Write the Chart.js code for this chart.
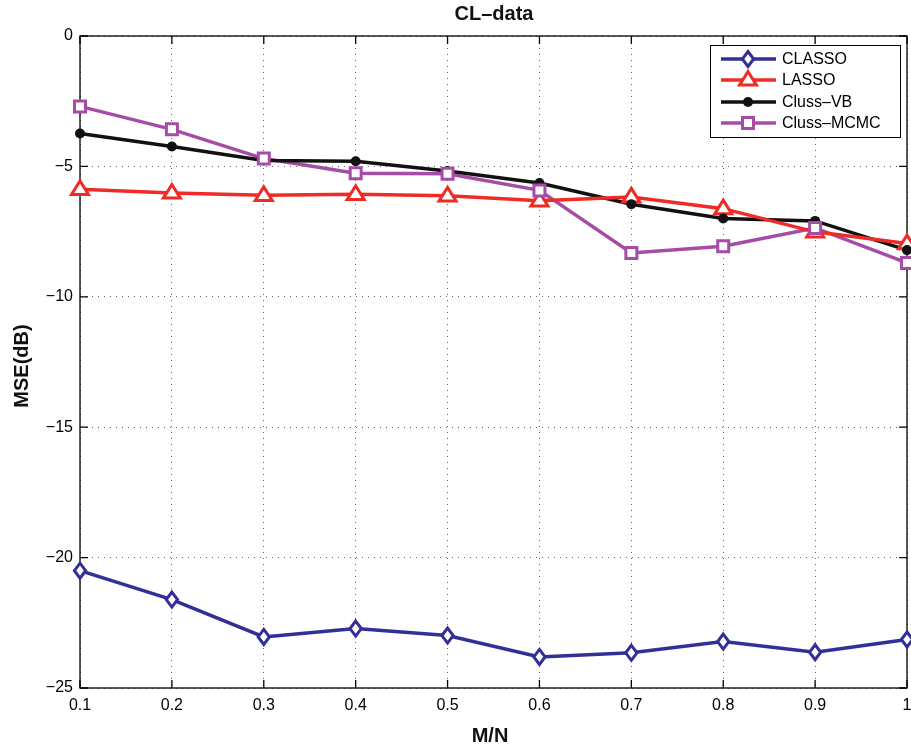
<!DOCTYPE html>
<html><head><meta charset="utf-8">
<script src="https://cdn.jsdelivr.net/npm/chart.js@4.4.1/dist/chart.umd.min.js"></script>
<style>html,body{margin:0;padding:0;background:#fff}canvas{display:block}</style>
</head><body>
<canvas id="c" width="911" height="749"></canvas>
<script>
const categories = ['0.1','0.2','0.3','0.4','0.5','0.6','0.7','0.8','0.9','1'];
const classo = [-20.50,-21.61,-23.04,-22.72,-22.99,-23.81,-23.65,-23.22,-23.63,-23.14];
const lasso  = [-5.88,-6.02,-6.11,-6.07,-6.13,-6.32,-6.17,-6.62,-7.51,-7.96];
const clussVB = [-3.74,-4.24,-4.77,-4.80,-5.18,-5.64,-6.45,-7.00,-7.09,-8.21];
const clussMCMC = [-2.70,-3.58,-4.70,-5.26,-5.28,-5.92,-8.32,-8.06,-7.36,-8.70];
const yTicks = [0,-5,-10,-15,-20,-25];
const seriesNames = ['CLASSO','LASSO','Cluss\u2013VB','Cluss\u2013MCMC'];

const FONT = '"Liberation Sans", Arial, Helvetica, sans-serif';
const C_BLUE = '#332f98', C_RED = '#ee2b24', C_BLACK = '#111111', C_PURPLE = '#a64ca6';

function drawMarker(ctx, style, x, y, color) {
  ctx.save();
  ctx.strokeStyle = color; ctx.fillStyle = color; ctx.lineWidth = 3;
  ctx.beginPath();
  if (style === 'diamond') {
    const r = 7.5;
    ctx.moveTo(x, y - r); ctx.lineTo(x + r*0.75, y); ctx.lineTo(x, y + r); ctx.lineTo(x - r*0.75, y); ctx.closePath();
    ctx.fillStyle = '#fff'; ctx.fill(); ctx.stroke();
  } else if (style === 'triangle') {
    const r = 8.5;
    ctx.moveTo(x, y - r); ctx.lineTo(x + r, y + r*0.6); ctx.lineTo(x - r, y + r*0.6); ctx.closePath();
    ctx.fillStyle = '#fff'; ctx.fill(); ctx.stroke();
  } else if (style === 'circle') {
    ctx.arc(x, y, 5, 0, Math.PI*2); ctx.fill();
  } else if (style === 'square') {
    const r = 5.5;
    ctx.rect(x - r, y - r, 2*r, 2*r); ctx.fillStyle = '#fff'; ctx.fill(); ctx.stroke();
  }
  ctx.restore();
}

const markerStyles = ['diamond','triangle','circle','square'];
const colors = [C_BLUE, C_RED, C_BLACK, C_PURPLE];

const frame = {
  id: 'frame',
  beforeDatasetsDraw(chart) {
    const {ctx, chartArea: a, scales: {x, y}} = chart;
    ctx.save();
    ctx.strokeStyle = '#000'; ctx.lineWidth = 1.3;
    ctx.strokeRect(a.left, a.top, a.right - a.left, a.bottom - a.top);
    ctx.beginPath();
    categories.forEach((c, i) => {
      const px = x.getPixelForValue(i);
      ctx.moveTo(px, a.bottom); ctx.lineTo(px, a.bottom - 8);
      ctx.moveTo(px, a.top); ctx.lineTo(px, a.top + 8);
    });
    yTicks.forEach(v => {
      const py = y.getPixelForValue(v);
      ctx.moveTo(a.left, py); ctx.lineTo(a.left + 8, py);
      ctx.moveTo(a.right, py); ctx.lineTo(a.right - 8, py);
    });
    ctx.stroke();
    ctx.restore();
  },
  afterDraw(chart) {
    const {ctx, chartArea: a} = chart;
    ctx.save();
    ctx.fillStyle = '#111';
    ctx.font = 'bold 20px ' + FONT;
    ctx.textAlign = 'center'; ctx.textBaseline = 'middle';
    ctx.fillText('CL\u2013data', 494, 14);
    ctx.fillText('M/N', 490, 736);
    ctx.translate(22, 366);
    ctx.rotate(-Math.PI/2);
    ctx.fillText('MSE(dB)', 0, 0);
    ctx.restore();
    // legend
    ctx.save();
    const lx = 710, ly = 45, lw = 190, lh = 92;
    ctx.fillStyle = '#fff'; ctx.fillRect(lx, ly, lw, lh);
    ctx.strokeStyle = '#000'; ctx.lineWidth = 1; ctx.strokeRect(lx + 0.5, ly + 0.5, lw, lh);
    const rows = [59, 80, 102, 123];
    ctx.font = '16px ' + FONT; ctx.textBaseline = 'middle'; ctx.textAlign = 'left';
    rows.forEach((ry, i) => {
      ctx.strokeStyle = colors[i]; ctx.lineWidth = 3.5;
      ctx.beginPath(); ctx.moveTo(721, ry); ctx.lineTo(776, ry); ctx.stroke();
      drawMarker(ctx, markerStyles[i], 748, ry, colors[i]);
      ctx.fillStyle = '#000';
      ctx.fillText(seriesNames[i], 782, ry + 1);
    });
    ctx.restore();
  }
};

const customPoints = {
  id: 'customPoints',
  afterDatasetsDraw(chart) {
    const ctx = chart.ctx;
    chart.data.datasets.forEach((ds, di) => {
      const meta = chart.getDatasetMeta(di);
      meta.data.forEach(pt => drawMarker(ctx, markerStyles[di], pt.x, pt.y, colors[di]));
    });
  }
};

function mk(label, data, color) {
  return { label, data, borderColor: color, backgroundColor: color, borderWidth: 3.5,
    pointRadius: 0, pointHoverRadius: 0, tension: 0, fill: false, clip: false };
}

new Chart(document.getElementById('c'), {
  type: 'line',
  data: {
    labels: categories,
    datasets: [
      mk(seriesNames[0], classo, C_BLUE),
      mk(seriesNames[1], lasso, C_RED),
      mk(seriesNames[2], clussVB, C_BLACK),
      mk(seriesNames[3], clussMCMC, C_PURPLE)
    ]
  },
  options: {
    responsive: false, animation: false, devicePixelRatio: 1,
    layout: { padding: { top: 36, right: 4, left: 0, bottom: 0 } },
    plugins: { legend: { display: false }, title: { display: false }, tooltip: { enabled: false } },
    scales: {
      x: {
        type: 'category', offset: false,
        grid: { color: '#666', lineWidth: 1, drawTicks: false },
        border: { display: false, dash: [1, 5] },
        ticks: { color: '#000', font: { family: FONT, size: 16 }, padding: 8, maxRotation: 0, autoSkip: false },
        afterFit(s) { s.height = 61; s.paddingLeft = 0; s.paddingRight = 0; }
      },
      y: {
        min: -25, max: 0,
        grid: { color: '#666', lineWidth: 1, drawTicks: false },
        border: { display: false, dash: [1, 5] },
        ticks: { stepSize: 5, color: '#000', font: { family: FONT, size: 16 }, padding: 7,
          callback: v => String(v).replace('-', '\u2212') },
        afterFit(s) { s.width = 80; s.paddingTop = 0; s.paddingBottom = 0; }
      }
    }
  },
  plugins: [frame, customPoints]
});
</script>
</body></html>
